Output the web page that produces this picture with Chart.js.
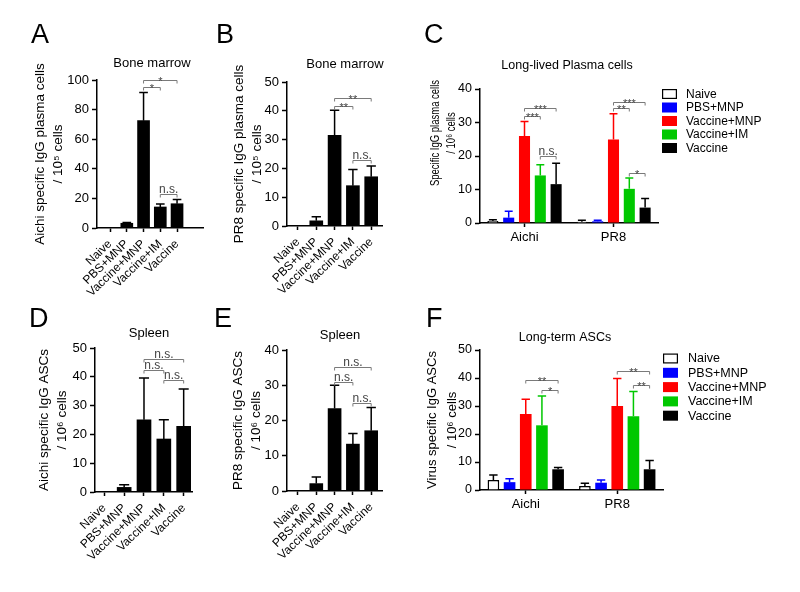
<!DOCTYPE html>
<html><head><meta charset="utf-8">
<script src="https://cdn.jsdelivr.net/npm/chart.js@4.4.0/dist/chart.umd.min.js"></script>
<style>
html,body{margin:0;padding:0;background:#fff;}
#wrap{position:relative;width:800px;height:592px;background:#fff;overflow:hidden;}
#wrap canvas{position:absolute;left:0;top:0;}
</style></head><body>
<div id="wrap">
<canvas id="cA" width="800" height="592"></canvas>
<canvas id="cB" width="800" height="592"></canvas>
<canvas id="cC" width="800" height="592"></canvas>
<canvas id="cD" width="800" height="592"></canvas>
<canvas id="cE" width="800" height="592"></canvas>
<canvas id="cF" width="800" height="592"></canvas>
</div>
<script>
// ---------------- DATA ----------------
const groups = ['Naive','PBS+MNP','Vaccine+MNP','Vaccine+IM','Vaccine'];
const strains = ['Aichi','PR8'];
const groupColors = ['#ffffff','#0000ff','#ff0000','#00c800','#000000'];

// A: Bone marrow, Aichi specific IgG plasma cells / 10^5 cells
const aMean = [0, 3.2, 72.5, 14.2, 16.4];
const aSD   = [0, 0.6, 19.1, 2.0, 2.8];
const aYTicks = [0, 20, 40, 60, 80, 100];
const aSig = [[2,3,95,'*'],[2,4,100,'*'],[3,4,23,'n.s.']];

// B: Bone marrow, PR8 specific IgG plasma cells / 10^5 cells
const bMean = [0, 1.8, 31.5, 14.0, 17.1];
const bSD   = [0, 1.4, 8.7, 5.6, 3.7];
const bYTicks = [0, 10, 20, 30, 40, 50];
const bSig = [[2,3,41.6,'**'],[2,4,44.5,'**'],[3,4,22.9,'n.s.']];

// C: Long-lived plasma cells (per strain)
const cNaive  = [0.6, 0.4];
const cPBS    = [1.6, 0.5];
const cVacMNP = [26.0, 24.9];
const cVacIM  = [14.2, 10.2];
const cVac    = [11.6, 4.6];
const cNaiveSD  = [0.4, 0.4];
const cPBSSD    = [1.9, 0.3];
const cVacMNPSD = [4.3, 7.7];
const cVacIMSD  = [3.2, 3.2];
const cVacSD    = [6.2, 2.7];
const cYTicks = [0, 10, 20, 30, 40];
const cSig = [[0,2,3,32,'***'],[0,2,4,34.2,'***'],[0,3,4,20,'n.s.'],[1,2,3,34.2,'**'],[1,2,4,36.2,'***'],[1,3,4,14.9,'*']];

// D: Spleen, Aichi specific IgG ASCs / 10^6 cells
const dMean = [0, 1.6, 25.1, 18.4, 22.8];
const dSD   = [0, 0.9, 14.5, 6.7, 13.0];
const dYTicks = [0, 10, 20, 30, 40, 50];
const dSig = [[2,4,46.3,'n.s.'],[2,3,42.2,'n.s.'],[3,4,39,'n.s.']];

// E: Spleen, PR8 specific IgG ASCs / 10^6 cells
const eMean = [0, 2.1, 23.4, 13.3, 17.1];
const eSD   = [0, 1.9, 6.6, 3.0, 6.6];
const eYTicks = [0, 10, 20, 30, 40];
const eSig = [[2,4,35.1,'n.s.'],[2,3,31,'n.s.'],[3,4,25,'n.s.']];

// F: Long-term ASCs (per strain)
const fNaive  = [3.6, 1.4];
const fPBS    = [2.8, 2.6];
const fVacMNP = [27.1, 30.0];
const fVacIM  = [23.1, 26.3];
const fVac    = [7.4, 7.4];
const fNaiveSD  = [1.8, 1.0];
const fPBSSD    = [1.2, 1.0];
const fVacMNPSD = [5.3, 9.8];
const fVacIMSD  = [10.5, 8.9];
const fVacSD    = [0.6, 3.1];
const fYTicks = [0, 10, 20, 30, 40, 50];
const fSig = [[0,2,4,39.2,'**'],[0,3,4,35.6,'*'],[1,2,4,42.6,'**'],[1,3,4,37.4,'**']];

// ---------------- RENDERING ----------------
const FONT = '"Liberation Sans", Arial, Helvetica, sans-serif';
const CW = 800, CH = 592;

const decoPlugin = {
  id: 'deco',
  afterDatasetsDraw(chart, args, o) {
    const ctx = chart.ctx;
    const ys = chart.scales.y;
    ctx.save();
    // error bars (upper, Prism style)
    chart.data.datasets.forEach((ds, di) => {
      const meta = chart.getDatasetMeta(di);
      meta.data.forEach((el, j) => {
        const sd = ds.sd[j];
        if (!sd) return;
        const raw = ds.data[j];
        const v = (typeof raw === 'object') ? raw.y : raw;
        const yT = ys.getPixelForValue(v + sd);
        const half = el.width * 0.36;
        ctx.strokeStyle = ds.errColor;
        ctx.lineWidth = 1.5;
        ctx.beginPath();
        ctx.moveTo(el.x, el.y);
        ctx.lineTo(el.x, yT);
        ctx.moveTo(el.x - half, yT);
        ctx.lineTo(el.x + half, yT);
        ctx.stroke();
      });
    });
    // significance brackets
    (o.sig || []).forEach(s => {
      let xa, xb, yv, lab;
      if (o.grouped) {
        xa = chart.getDatasetMeta(s[1]).data[s[0]].x;
        xb = chart.getDatasetMeta(s[2]).data[s[0]].x;
        yv = s[3]; lab = s[4];
      } else {
        const m = chart.getDatasetMeta(0).data;
        xa = m[s[0]].x; xb = m[s[1]].x; yv = s[2]; lab = s[3];
      }
      const y = Math.round(ys.getPixelForValue(yv)) + 0.5;
      ctx.strokeStyle = '#7a7a7a';
      ctx.lineWidth = 1;
      ctx.beginPath();
      ctx.moveTo(xa, y + 3); ctx.lineTo(xa, y); ctx.lineTo(xb, y); ctx.lineTo(xb, y + 3);
      ctx.stroke();
      ctx.fillStyle = '#444';
      ctx.textAlign = 'center';
      ctx.textBaseline = 'alphabetic';
      if (lab === 'n.s.') {
        ctx.font = '12px ' + FONT;
        ctx.fillText(lab, (xa + xb) / 2, y - 1.5);
      } else {
        ctx.font = '11px ' + FONT;
        ctx.fillText(lab, (xa + xb) / 2, y + 4);
      }
    });
    // custom (compressed) y-axis title
    if (o.yTitle2) {
      const T = o.yTitle2;
      ctx.fillStyle = '#000';
      ctx.textAlign = 'center';
      ctx.textBaseline = 'middle';
      ctx.font = T.size + 'px ' + FONT;
      T.lines.forEach((line, i) => {
        ctx.save();
        ctx.translate(T.x + T.dx * i, T.cy);
        ctx.rotate(-Math.PI / 2);
        ctx.scale(1, T.stretch);
        ctx.fillText(line, 0, 0);
        ctx.restore();
      });
    }
    // panel letter
    ctx.fillStyle = '#000';
    ctx.textAlign = 'left';
    ctx.textBaseline = 'alphabetic';
    ctx.font = '27px ' + FONT;
    ctx.fillText(o.letter, o.letterX, o.letterY);
    // panel title
    ctx.textAlign = 'center';
    ctx.font = o.titleSize + 'px ' + FONT;
    ctx.fillText(o.title, o.titleX, o.titleY);
    // legend
    if (o.legend) {
      const L = o.legend;
      chart.data.datasets.forEach((ds, i) => {
        const cy = L.y0 + L.dy * i;
        ctx.fillStyle = ds.backgroundColor;
        ctx.fillRect(L.x, cy - 5, 15, 10);
        if (ds.borderWidth) {
          ctx.strokeStyle = '#000';
          ctx.lineWidth = 1.2;
          ctx.strokeRect(L.x + 0.6, cy - 4.4, 13.8, 8.8);
        }
        ctx.fillStyle = '#000';
        ctx.textAlign = 'left';
        ctx.textBaseline = 'middle';
        ctx.font = L.size + 'px ' + FONT;
        ctx.fillText(ds.label, L.textX, cy + 0.5);
      });
    }
    ctx.restore();
  }
};

function yScale(o) {
  return {
    type: 'linear', min: 0, max: o.yTicks[o.yTicks.length - 1],
    afterBuildTicks: s => { s.ticks = o.yTicks.map(v => ({ value: v })); },
    afterFit: s => { s.width = o.area.l - o.titleLeft; },
    ticks: { color: '#000', padding: 3, font: { family: FONT, size: o.tickSize } },
    grid: { display: true, drawOnChartArea: false, drawTicks: true, tickLength: 5, tickColor: '#000', tickWidth: 1.5 },
    border: { display: true, color: '#000', width: 1.5 },
    title: { display: !!o.yTitle, text: o.yTitle || '', color: '#000', padding: 0,
             font: { family: FONT, size: o.yTitleSize, lineHeight: o.yTitleLH } }
  };
}

function makeSingle(id, o) {
  const XH = 75;
  return new Chart(document.getElementById(id), {
    type: 'bar',
    data: {
      datasets: [{
        data: o.mean.map((v, i) => ({ x: i, y: v })),
        sd: o.sd, errColor: '#000',
        backgroundColor: '#000', borderWidth: 0, barThickness: o.bar
      }]
    },
    options: {
      responsive: false, animation: false, events: [],
      layout: { padding: { left: o.titleLeft, top: o.area.t, right: CW - o.area.r, bottom: CH - o.area.b - XH } },
      plugins: { legend: { display: false }, tooltip: { enabled: false }, title: { display: false },
        deco: { sig: o.sig, grouped: false, letter: o.letter, letterX: o.letterX, letterY: o.letterY,
                title: o.title, titleX: o.titleX, titleY: o.titleY, titleSize: 13 } },
      scales: {
        x: {
          type: 'linear', min: o.xMin, max: o.xMax, offset: false,
          afterBuildTicks: s => { s.ticks = groups.map((g, i) => ({ value: i })); },
          afterFit: s => { s.height = XH; },
          ticks: { autoSkip: false, minRotation: 44, maxRotation: 44, color: '#000', padding: 5,
                   font: { family: FONT, size: 12 }, callback: v => groups[v] },
          grid: { display: true, offset: false, drawOnChartArea: false, drawTicks: true, tickLength: 4, tickColor: '#000', tickWidth: 1.5 },
          border: { display: true, color: '#000', width: 1.5 }
        },
        y: yScale(o)
      }
    },
    plugins: [decoPlugin]
  });
}

function makeGrouped(id, o) {
  const XH = 30;
  const ds = o.series.map((s, i) => ({
    label: groups[i], data: s, sd: o.sds[i],
    backgroundColor: groupColors[i],
    borderColor: '#000', borderWidth: i === 0 ? 1.5 : 0,
    errColor: i === 0 ? '#000' : groupColors[i],
    categoryPercentage: o.catPct, barPercentage: o.barPct
  }));
  return new Chart(document.getElementById(id), {
    type: 'bar',
    data: { labels: strains, datasets: ds },
    options: {
      responsive: false, animation: false, events: [],
      layout: { padding: { left: o.titleLeft, top: o.area.t, right: CW - o.area.r, bottom: CH - o.area.b - XH } },
      plugins: { legend: { display: false }, tooltip: { enabled: false }, title: { display: false },
        deco: { sig: o.sig, grouped: true, letter: o.letter, letterX: o.letterX, letterY: o.letterY,
                title: o.title, titleX: o.titleX, titleY: o.titleY, titleSize: 12.5, legend: o.legend,
                yTitle2: o.yTitle2 } },
      scales: {
        x: {
          type: 'category', offset: true,
          afterFit: s => { s.height = XH; },
          ticks: { color: '#000', padding: 3, font: { family: FONT, size: 13 } },
          grid: { display: true, offset: false, drawOnChartArea: false, drawTicks: true, tickLength: 4, tickColor: '#000', tickWidth: 1.5 },
          border: { display: true, color: '#000', width: 1.5 }
        },
        y: yScale(o)
      }
    },
    plugins: [decoPlugin]
  });
}

makeSingle('cA', {
  mean: aMean, sd: aSD, sig: aSig, yTicks: aYTicks,
  area: { l: 97, r: 203, t: 80, b: 228 }, xMin: -0.78, xMax: 5.55, bar: 12,
  titleLeft: 32, yTitle: ['Aichi specific IgG plasma cells', '/ 10\u2075 cells'], yTitleSize: 13.5, yTitleLH: 1.3, tickSize: 13,
  letter: 'A', letterX: 31, letterY: 43, title: 'Bone marrow', titleX: 152, titleY: 67
});
makeSingle('cB', {
  mean: bMean, sd: bSD, sig: bSig, yTicks: bYTicks,
  area: { l: 287, r: 382, t: 82, b: 226 }, xMin: -0.6, xMax: 4.59, bar: 13,
  titleLeft: 231, yTitle: ['PR8 specific IgG plasma cells', '/ 10\u2075 cells'], yTitleSize: 13.5, yTitleLH: 1.3, tickSize: 13,
  letter: 'B', letterX: 216, letterY: 43, title: 'Bone marrow', titleX: 345, titleY: 68
});
makeGrouped('cC', {
  series: [cNaive, cPBS, cVacMNP, cVacIM, cVac], sds: [cNaiveSD, cPBSSD, cVacMNPSD, cVacIMSD, cVacSD],
  sig: cSig, yTicks: cYTicks, catPct: 0.888, barPct: 0.7,
  area: { l: 480, r: 658, t: 89, b: 223 },
  titleLeft: 427, yTitle: null, tickSize: 12.5,
  yTitle2: { lines: ['Specific IgG plasma cells', '/ 10\u2076 cells'], x: 436, dx: 16, cy: 133, size: 9.5, stretch: 1.3 },
  letter: 'C', letterX: 424, letterY: 43, title: 'Long-lived Plasma cells', titleX: 567, titleY: 69,
  legend: { x: 662, y0: 94, dy: 13.5, textX: 686, size: 12 }
});
makeSingle('cD', {
  mean: dMean, sd: dSD, sig: dSig, yTicks: dYTicks,
  area: { l: 95, r: 192, t: 348, b: 492 }, xMin: -0.47, xMax: 4.42, bar: 14,
  titleLeft: 36, yTitle: ['Aichi specific IgG ASCs', '/ 10\u2076 cells'], yTitleSize: 13.5, yTitleLH: 1.3, tickSize: 13,
  letter: 'D', letterX: 29, letterY: 327, title: 'Spleen', titleX: 149, titleY: 337
});
makeSingle('cE', {
  mean: eMean, sd: eSD, sig: eSig, yTicks: eYTicks,
  area: { l: 287, r: 382, t: 350, b: 491 }, xMin: -0.6, xMax: 4.59, bar: 13,
  titleLeft: 230, yTitle: ['PR8 specific IgG ASCs', '/ 10\u2076 cells'], yTitleSize: 13.5, yTitleLH: 1.3, tickSize: 13,
  letter: 'E', letterX: 214, letterY: 327, title: 'Spleen', titleX: 340, titleY: 339
});
makeGrouped('cF', {
  series: [fNaive, fPBS, fVacMNP, fVacIM, fVac], sds: [fNaiveSD, fPBSSD, fVacMNPSD, fVacIMSD, fVacSD],
  sig: fSig, yTicks: fYTicks, catPct: 0.884, barPct: 0.72,
  area: { l: 480, r: 663, t: 350, b: 490 },
  titleLeft: 423, yTitle: ['Virus specific IgG ASCs', '/ 10\u2076 cells'], yTitleSize: 13, yTitleLH: 1.5, tickSize: 12.5,
  letter: 'F', letterX: 426, letterY: 327, title: 'Long-term ASCs', titleX: 565, titleY: 341,
  legend: { x: 663, y0: 358.5, dy: 14.3, textX: 688, size: 12.5 }
});
</script>
</body></html>
